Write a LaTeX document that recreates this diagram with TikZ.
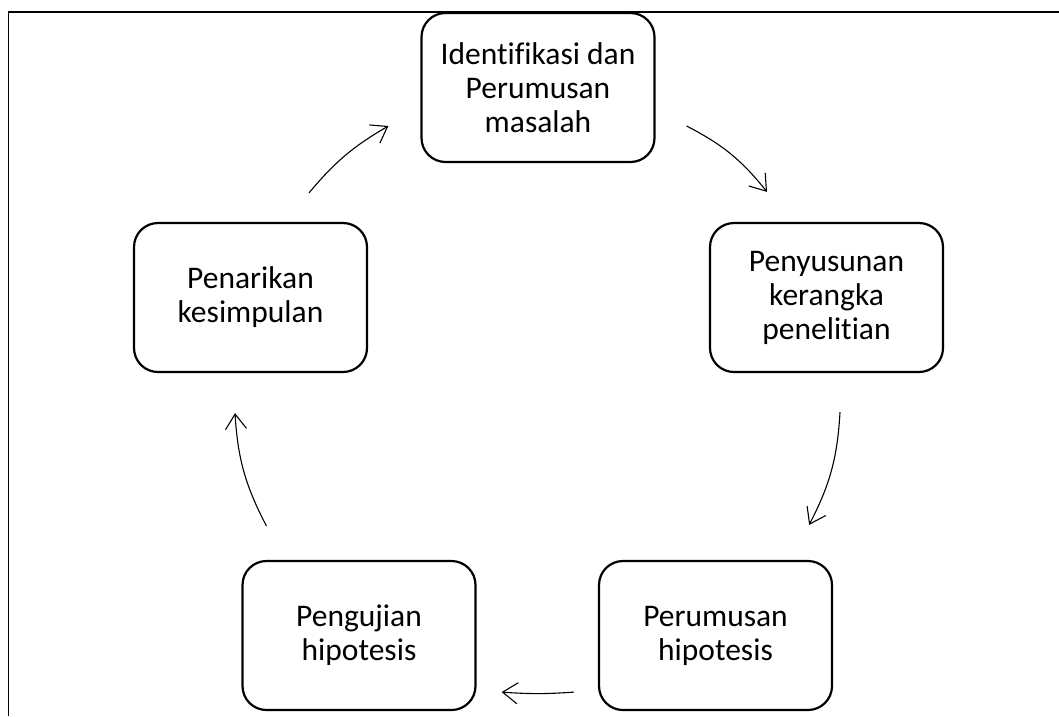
\documentclass[tikz,border=0pt]{standalone}
\usepackage{fontspec}
\setmainfont{Carlito}[Ligatures=NoCommon]
\usetikzlibrary{arrows.meta,positioning,calc}
\tikzset{
  box/.style={rounded corners=24pt, draw=black, line width=2.2pt, minimum width=233pt, minimum height=149pt, align=center, font=\fontsize{31.5}{34}\selectfont},
  arr/.style={-{Straight Barb[length=15pt,width=21pt]}, line width=1.1pt, draw=black},
  frame/.style={line width=1.8pt, draw=black}
}
\begin{document}
\begin{tikzpicture}[x=1pt,y=1pt]
\useasboundingbox (0,0) rectangle (1059,-716);
% bingkai
\draw[frame] (8.5,-716) -- (8.5,-12) -- (1059,-12);
% tahapan
\node[box] (idf) at (538,-87.5) {Identifikasi dan\\Perumusan\\masalah};
\node[box] (susun) at (826.5,-297.5) {Penyusunan\\kerangka\\penelitian};
\node[box] (rumus) at (715.5,-635.5) {Perumusan\\hipotesis};
\node[box] (uji) at (359,-635.5) {Pengujian\\hipotesis};
\node[box] (tarik) at (250.5,-297.5) {Penarikan\\kesimpulan};
% panah siklus
\draw[arr] ([shift={(58.5,29)}]tarik.north) to[bend left=10] ([shift={(-32,-38.5)}]idf.west);
\draw[arr] ([shift={(31,-38.5)}]idf.east) to[bend left=12] ([shift={(-59.5,30)}]susun.north);
\draw[arr] ([shift={(13.5,-39)}]susun.south) to[bend left=12] ([shift={(-24,35)}]rumus.north east);
\draw[arr] ([shift={(-24,19)}]rumus.south west) to[bend left=4] ([shift={(25,19)}]uji.south east);
\draw[arr] ([shift={(25,34)}]uji.north west) to[bend left=12] ([shift={(-15.5,-40)}]tarik.south);
\end{tikzpicture}
\end{document}
